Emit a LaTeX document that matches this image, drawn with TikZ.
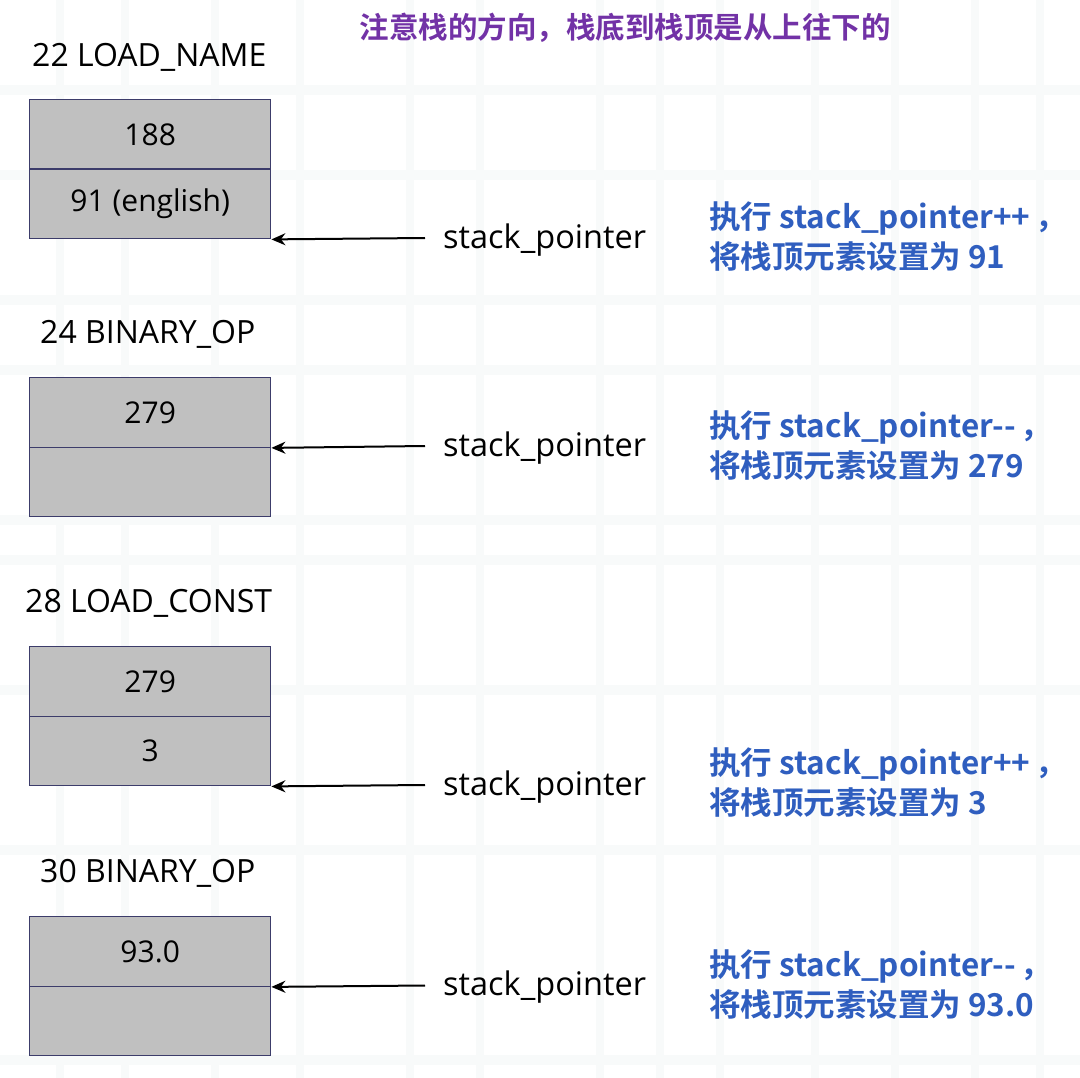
\documentclass[tikz,border=0pt]{standalone}
\usepackage{fontspec}
\setmainfont{Open Sans}
\newfontfamily\cjk{Noto Sans CJK SC}[BoldFont={Noto Sans CJK SC Bold}]
\usetikzlibrary{arrows.meta}
\definecolor{cellfill}{HTML}{C0C0C0}
\definecolor{cellline}{HTML}{3C3C6A}
\definecolor{noteblue}{HTML}{2F5EBF}
\definecolor{titlepurple}{HTML}{7232A6}
\definecolor{gridc}{HTML}{F8FAFA}
\tikzset{
  cell/.style={draw=cellline, line width=1.4pt, fill=cellfill, minimum width=241pt, minimum height=69.5pt, inner sep=0pt, anchor=north west, font=\fontsize{30}{34}\selectfont},
  oplabel/.style={anchor=west, inner sep=0pt, font=\fontsize{32}{36}\selectfont},
  sptext/.style={anchor=west, inner sep=0pt, font=\fontsize{32.5}{36}\selectfont},
  note/.style={anchor=west, inner sep=0pt, align=left, text=noteblue, font=\cjk\bfseries\fontsize{31.5}{40}\selectfont},
  ptr/.style={-{Stealth[length=14pt,width=12pt]}, line width=2pt, black}
}
\begin{document}
\begin{tikzpicture}[x=1pt,y=-1pt]
\useasboundingbox (0,0) rectangle (1080,1078);
\fill[white] (0,0) rectangle (1080,1078);
\foreach \gx in {60,125,215,300,410,480,600,660,720,815,895,975,1040}
  \fill[gridc] (\gx-4,0) rectangle (\gx+4,1078);
\foreach \gy in {90,175,300,370,520,560,690,850,1060}
  \fill[gridc] (0,\gy-5) rectangle (1080,\gy+5);

\node[inner sep=0pt, text=titlepurple, font=\cjk\bfseries\fontsize{29.5}{34}\selectfont] (title) at (625,28) {注意栈的方向，栈底到栈顶是从上往下的};

% block 1
\node[oplabel] (op1) at (32,57) {22 LOAD\_NAME};
\node[cell] (c1a) at (29,99) {188};
\node[cell] (c1b) at (29,168.5) {91 (english)};
\node[sptext] (sp1) at (443,240) {stack\_pointer};
\node[note] (n1) at (709,237) {执行 stack\_pointer++\,，\\将栈顶元素设置为 91};
\draw[ptr] ([xshift=-18pt,yshift=2pt]sp1.west) -- (c1b.south east);

% block 2
\node[oplabel] (op2) at (40,334) {24 BINARY\_OP};
\node[cell] (c2a) at (29,377) {279};
\node[cell] (c2b) at (29,446.5) {};
\node[sptext] (sp2) at (443,448) {stack\_pointer};
\node[note] (n2) at (709,446) {执行 stack\_pointer-{}-\,，\\将栈顶元素设置为 279};
\draw[ptr] ([xshift=-18pt,yshift=2pt]sp2.west) -- (c2a.south east);

% block 3
\node[oplabel] (op3) at (25,603) {28 LOAD\_CONST};
\node[cell] (c3a) at (29,646) {279};
\node[cell] (c3b) at (29,715.5) {3};
\node[sptext] (sp3) at (443,787) {stack\_pointer};
\node[note] (n3) at (709,783) {执行 stack\_pointer++\,，\\将栈顶元素设置为 3};
\draw[ptr] ([xshift=-18pt,yshift=2pt]sp3.west) -- (c3b.south east);

% block 4
\node[oplabel] (op4) at (40,873) {30 BINARY\_OP};
\node[cell] (c4a) at (29,916) {93.0};
\node[cell] (c4b) at (29,985.5) {};
\node[sptext] (sp4) at (443,987.5) {stack\_pointer};
\node[note] (n4) at (709,985) {执行 stack\_pointer-{}-\,，\\将栈顶元素设置为 93.0};
\draw[ptr] ([xshift=-18pt,yshift=2pt]sp4.west) -- (c4a.south east);
\end{tikzpicture}
\end{document}
